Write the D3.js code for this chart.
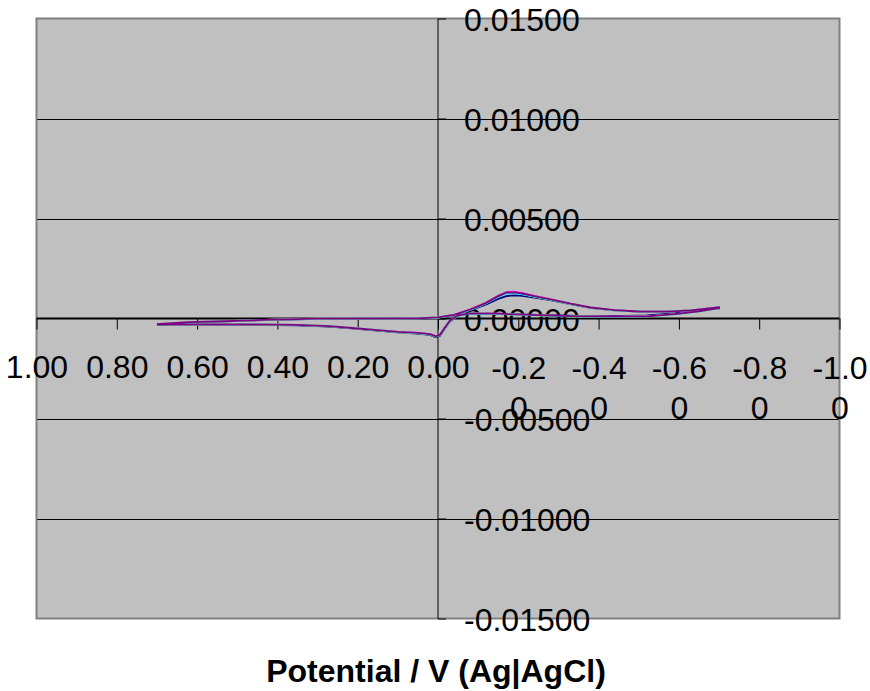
<!DOCTYPE html>
<html>
<head>
<meta charset="utf-8">
<script src="https://cdn.jsdelivr.net/npm/d3@7"></script>
<style>
  body { margin: 0; background: #fff; }
  svg text { font-family: "Liberation Sans", Arial, sans-serif; fill: #000; }
</style>
</head>
<body>
<svg id="chart" width="870" height="691"></svg>
<script>
// potentials (V) for one sweep loop: forward 0.70 -> -0.70 then back
var forwardE = [0.70, 0.62, 0.55, 0.47, 0.38, 0.30, 0.15, 0.05, 0.00, -0.04, -0.08, -0.12, -0.15,
  -0.17, -0.19, -0.21, -0.24, -0.28, -0.33, -0.38, -0.44, -0.50, -0.57, -0.63, -0.70];
var reverseE = [-0.70, -0.65, -0.59, -0.52, -0.44, -0.35, -0.25, -0.15, -0.08, -0.05, -0.03, -0.015,
  -0.005, 0.005, 0.02, 0.05, 0.10, 0.15, 0.20, 0.27, 0.35, 0.45, 0.55, 0.63, 0.70];
var potential = forwardE.concat(reverseE);

// current (A), one array per cycle
var cycle1 = [-0.00030, -0.00022, -0.00016, -0.00010, -0.00005, -0.00002, -0.00001, 0.00000, 0.00004,
  0.00015, 0.00040, 0.00070, 0.00098, 0.00112, 0.00116, 0.00113, 0.00104, 0.00092, 0.00072, 0.00053,
  0.00041, 0.00035, 0.00034, 0.00040, 0.00054,
  0.00050, 0.00038, 0.00026, 0.00016, 0.00012, 0.00013, 0.00018, 0.00023, 0.00024, 0.00014, -0.00014,
  -0.00056, -0.00086, -0.00094, -0.00082, -0.00075, -0.00069, -0.00060, -0.00052, -0.00040, -0.00034,
  -0.00032, -0.00031, -0.00030, -0.00030];
var cycle2 = [-0.00028, -0.00018, -0.00015, -0.00009, -0.00004, -0.00001, 0.00000, 0.00001, 0.00006,
  0.00018, 0.00046, 0.00080, 0.00114, 0.00132, 0.00134, 0.00127, 0.00113, 0.00097, 0.00074, 0.00054,
  0.00041, 0.00035, 0.00034, 0.00041, 0.00056,
  0.00052, 0.00036, 0.00022, 0.00012, 0.00009, 0.00011, 0.00017, 0.00024, 0.00026, 0.00016, -0.00010,
  -0.00050, -0.00080, -0.00088, -0.00078, -0.00072, -0.00067, -0.00058, -0.00050, -0.00038, -0.00032,
  -0.00030, -0.00030, -0.00029, -0.00028];
var cycle3 = [-0.00028, -0.00019, -0.00015, -0.00009, -0.00004, -0.00001, 0.00000, 0.00001, 0.00005,
  0.00017, 0.00044, 0.00077, 0.00110, 0.00127, 0.00129, 0.00123, 0.00110, 0.00095, 0.00073, 0.00054,
  0.00041, 0.00035, 0.00034, 0.00041, 0.00055,
  0.00051, 0.00035, 0.00021, 0.00011, 0.00008, 0.00010, 0.00016, 0.00023, 0.00025, 0.00015, -0.00011,
  -0.00052, -0.00082, -0.00090, -0.00079, -0.00073, -0.00068, -0.00058, -0.00050, -0.00038, -0.00032,
  -0.00030, -0.00030, -0.00029, -0.00028];
var cycle4 = [-0.00028, -0.00019, -0.00015, -0.00009, -0.00004, -0.00001, 0.00000, 0.00001, 0.00005,
  0.00017, 0.00043, 0.00076, 0.00108, 0.00125, 0.00127, 0.00121, 0.00109, 0.00094, 0.00073, 0.00054,
  0.00041, 0.00035, 0.00034, 0.00041, 0.00055,
  0.00051, 0.00035, 0.00021, 0.00011, 0.00008, 0.00010, 0.00016, 0.00023, 0.00025, 0.00015, -0.00011,
  -0.00052, -0.00082, -0.00090, -0.00079, -0.00073, -0.00068, -0.00058, -0.00050, -0.00038, -0.00032,
  -0.00030, -0.00030, -0.00029, -0.00028];
var cycle5 = [-0.00028, -0.00018, -0.00015, -0.00009, -0.00004, -0.00001, 0.00000, 0.00001, 0.00006,
  0.00018, 0.00045, 0.00078, 0.00112, 0.00129, 0.00131, 0.00125, 0.00112, 0.00096, 0.00074, 0.00055,
  0.00042, 0.00035, 0.00034, 0.00041, 0.00056,
  0.00052, 0.00036, 0.00022, 0.00011, 0.00009, 0.00011, 0.00017, 0.00024, 0.00026, 0.00016, -0.00010,
  -0.00051, -0.00081, -0.00089, -0.00078, -0.00072, -0.00067, -0.00058, -0.00050, -0.00038, -0.00032,
  -0.00030, -0.00030, -0.00029, -0.00028];
var cycles = [cycle1, cycle2, cycle3, cycle4, cycle5];
var cycleColors = ["#000080", "#ff00ff", "#ffff00", "#00ffff", "#800080"];

var xTicks = [1.0, 0.8, 0.6, 0.4, 0.2, 0.0, -0.2, -0.4, -0.6, -0.8, -1.0];
var xTickLabels = ["1.00", "0.80", "0.60", "0.40", "0.20", "0.00", "-0.20", "-0.40", "-0.60", "-0.80", "-1.00"];
var yTicks = [0.015, 0.01, 0.005, 0, -0.005, -0.01, -0.015];
var yTickLabels = ["0.01500", "0.01000", "0.00500", "0.00000", "-0.00500", "-0.01000", "-0.01500"];

var svg = d3.select("#chart");
var plotL = 36.5, plotR = 839.5, plotT = 18.5, plotB = 618.5;

var x = d3.scaleLinear().domain([1, -1]).range([plotL, plotR]);
var y = d3.scaleLinear().domain([-0.015, 0.015]).range([plotB, plotT]);

// plot area
svg.append("rect")
  .attr("x", plotL).attr("y", plotT)
  .attr("width", plotR - plotL).attr("height", plotB - plotT)
  .style("fill", "#c0c0c0");

// horizontal gridlines
svg.append("g")
  .attr("transform", "translate(" + plotL + ",0)")
  .call(d3.axisLeft(y).tickValues([0.01, 0.005, -0.005, -0.01]).tickSize(-(plotR - plotL)).tickFormat(""))
  .call(function(g) { g.select(".domain").remove(); })
  .selectAll("line")
  .style("stroke", "#000").style("stroke-width", 1)
  .attr("shape-rendering", "crispEdges");

// border
svg.append("rect")
  .attr("x", plotL).attr("y", plotT)
  .attr("width", plotR - plotL).attr("height", plotB - plotT)
  .style("fill", "none").style("stroke", "#808080").style("stroke-width", 2);

// vertical axis through x = 0
var yAxis = svg.append("g")
  .attr("transform", "translate(" + x(0) + ",0)")
  .call(d3.axisRight(y).tickValues(yTicks).tickSize(8).tickPadding(18)
    .tickFormat(function(d, i) { return yTickLabels[i]; }));
yAxis.select(".domain").style("stroke", "#000").style("stroke-width", 1).attr("d", "M0," + plotT + "V" + plotB);
yAxis.selectAll("line").style("stroke", "#000");
yAxis.selectAll("text")
  .style("font-size", "32px").attr("dy", "0.36em").attr("text-anchor", "start");

// horizontal axis through y = 0
var xAxis = svg.append("g")
  .attr("transform", "translate(0," + y(0) + ")")
  .call(d3.axisBottom(x).tickValues(xTicks).tickSize(11).tickFormat(""));
xAxis.select(".domain").style("stroke", "#000").style("stroke-width", 2).attr("d", "M" + plotL + ",0H" + plotR);
xAxis.selectAll("line").style("stroke", "#000");

// tick labels; long ones wrap onto a second line
xAxis.selectAll(".tick").each(function(d, i) {
  var lab = xTickLabels[i];
  var t = d3.select(this).append("text")
    .attr("text-anchor", "middle")
    .style("font-size", "32px")
    .style("fill", "#000");
  if (lab.length > 4) {
    t.append("tspan").attr("x", 0).attr("y", 60).text(lab.slice(0, 4));
    t.append("tspan").attr("x", 0).attr("y", 100).text(lab.slice(4));
  } else {
    t.append("tspan").attr("x", 0).attr("y", 59).text(lab);
  }
});

// cycles
var line = d3.line()
  .x(function(d, i) { return x(potential[i]); })
  .y(function(d) { return y(d); });

svg.append("g").selectAll("path")
  .data(cycles)
  .enter().append("path")
  .attr("d", line)
  .style("fill", "none")
  .style("stroke", function(d, i) { return cycleColors[i]; })
  .style("stroke-width", 1.8);

// axis title
svg.append("text")
  .attr("x", 436).attr("y", 682)
  .attr("text-anchor", "middle")
  .style("font-size", "32px").style("font-weight", "bold")
  .text("Potential / V (Ag|AgCl)");
</script>
</body>
</html>
